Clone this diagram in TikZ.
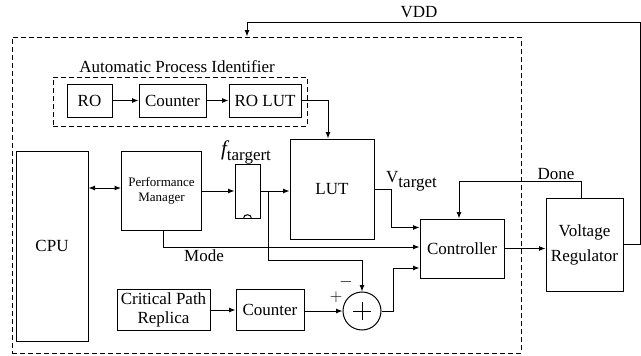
\documentclass[tikz,border=0pt]{standalone}
\usepackage{fontspec}
\setmainfont{Liberation Serif}
\usetikzlibrary{positioning,arrows.meta,calc}

\begin{document}
\begin{tikzpicture}[
  x=1pt, y=-1pt,
  font=\fontsize{17}{19}\selectfont,
  every node/.style={align=center},
  blk/.style  ={rectangle, draw=black, line width=1pt, inner sep=2pt},
  grp/.style  ={rectangle, draw=black, line width=1pt, dash pattern=on 5pt off 3pt},
  add/.style  ={circle, draw=black, line width=1pt, minimum size=38pt, inner sep=0pt},
  lbl/.style  ={inner sep=0pt},
  arrow/.style={-{Latex[length=6.5pt,width=5pt]}, line width=1pt},
  line/.style ={line width=1pt},
]
\useasboundingbox (0,0) rectangle (641,356);

% -------- enclosing boxes -------------------------------------------------
\node[grp, minimum width=509pt, minimum height=316pt] (soc) at (266.5,195) {};
\node[grp, minimum width=254pt, minimum height=49pt] (api) at (180,101.5) {};
\node[lbl, above=4pt of api, xshift=-3pt] (apilbl) {Automatic Process Identifier};

% -------- process identifier ----------------------------------------------
\node[blk, minimum width=45pt, minimum height=33pt] (ro) at (89.5,100.5) {RO};
\node[blk, minimum width=67pt, minimum height=33pt, right=26pt of ro] (cnt1) {Counter};
\node[blk, minimum width=72pt, minimum height=33pt, right=22pt of cnt1] (rolut) {RO LUT};

% -------- core ------------------------------------------------------------
\node[blk, minimum width=72pt, minimum height=190pt] (cpu) at (52,246) {CPU};
\node[blk, minimum width=80pt, minimum height=79pt,
      font=\fontsize{13}{15}\selectfont] (pm) at (161.5,191) {Performance\\Manager};
\node[blk, minimum width=25pt, minimum height=54pt] (reg) at (247.5,191) {};
\node[lbl] (ftgt) at (246,152) {{\fontsize{21}{21}\selectfont\itshape f}\raisebox{-5pt}{targert}};
\node[blk, minimum width=84pt, minimum height=100pt] (lut) at (332,189) {LUT};

% -------- control ---------------------------------------------------------
\node[blk, minimum width=84pt, minimum height=59pt] (ctrl) at (462,248.5) {Controller};
\node[blk, minimum width=77pt, minimum height=93pt,
      font=\fontsize{17}{25}\selectfont] (vr) at (584.5,244.5) {Voltage\\Regulator};

% -------- critical path ---------------------------------------------------
\node[blk, minimum width=93pt, minimum height=41pt] (cpr) at (163.5,310) {Critical Path\\Replica};
\node[blk, minimum width=68pt, minimum height=41pt, right=25pt of cpr] (cnt2) {Counter};
\node[add] (adder) at (362,311) {};
\draw[line] ([xshift=-9pt]adder.center) -- ([xshift=9pt]adder.center);
\draw[line] ([yshift=-9pt]adder.center) -- ([yshift=9pt]adder.center);

% -------- arrows ----------------------------------------------------------
\foreach \a/\b in {ro/cnt1, cnt1/rolut, cpr/cnt2, pm/reg}
  \draw[arrow] (\a) -- (\b);
\draw[arrow] (rolut.east) -| ([xshift=-4pt]lut.north);
\draw[{Latex[length=6.5pt,width=5pt]}-{Latex[length=6.5pt,width=5pt]}, line width=1pt]
  ([yshift=3pt]pm.west -| cpu.east) -- ([yshift=3pt]pm.west);
% clock mark
\draw[line] ([xshift=-4pt]reg.south) .. controls ([xshift=-4pt,yshift=5pt]reg.south)
  and ([xshift=4pt,yshift=5pt]reg.south) .. ([xshift=4pt]reg.south);

% frequency target to LUT and error path
\draw[arrow] (reg.east) -- (reg.east -| lut.west);
\coordinate (br) at ($(reg.east)+(8,0)$);
\coordinate (brlow) at (br |- 0,260);
\draw[arrow] (br) -- (brlow) -| (adder.north);
\draw[arrow] (adder.west -| cnt2.east) -- (adder.west);

% controller inputs
\draw[arrow] (lut.east) -- ++(17,0) |- ([yshift=21pt]ctrl.west);
\draw[arrow] ([xshift=1.5pt]pm.south) |- ([yshift=1.5pt]ctrl.west);
\draw[arrow] (adder.east) -- ++(12,0) |- ([yshift=-19.5pt]ctrl.west);

% regulator loop
\draw[arrow] (ctrl.east) -- (ctrl.east -| vr.west);
\draw[arrow] ([xshift=-3.5pt]vr.north) -- ++(0,-16) -| ([xshift=-3pt]ctrl.north);
\coordinate (vddc) at (247,22);
\draw[arrow] (vr.east) -- ++(16.5,0) |- (vddc) -- (vddc |- soc.north);

% -------- labels ----------------------------------------------------------
\node[lbl] (vddlbl) at (419,12) {VDD};
\node[lbl] (donelbl) at (556,174) {Done};
\node[lbl] (modelbl) at (204,256) {Mode};
\node[lbl, anchor=south west] (vtgt) at (386,191) {V\raisebox{-5pt}{target}};
\node[lbl] (minus) at (346,282) {$-$};
\node[lbl] (plus) at (336,297) {$+$};

\end{tikzpicture}
\end{document}
